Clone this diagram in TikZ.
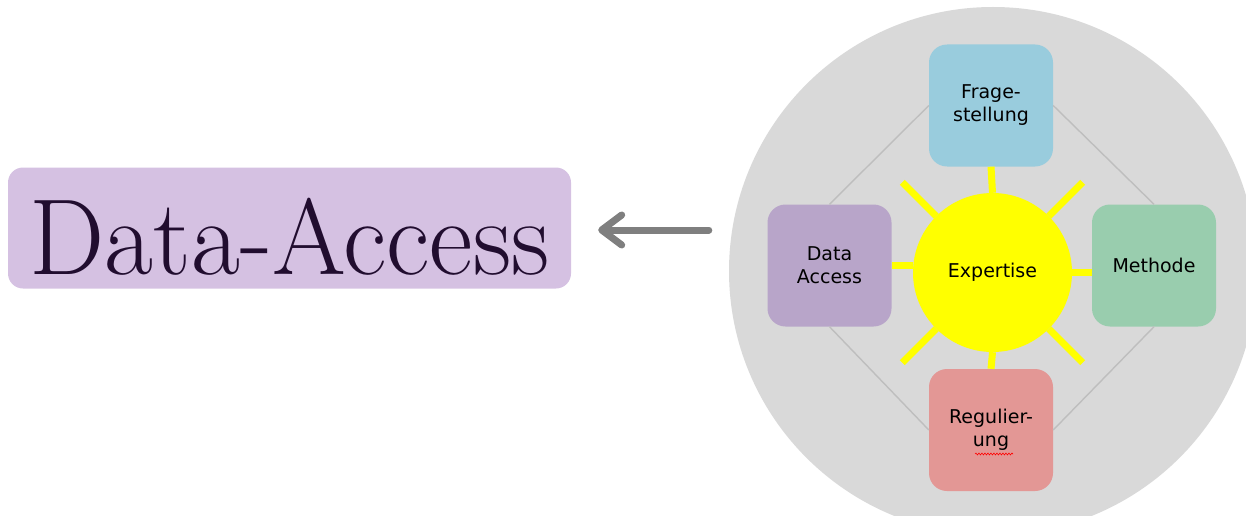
\documentclass[tikz,border=0pt]{standalone}
\usepackage{fontspec}
\newfontfamily\boxfont{DejaVu Sans}
\usepackage{tikz}
\usetikzlibrary{arrows.meta, calc, decorations.pathmorphing}
\definecolor{ringgray}{HTML}{D9D9D9}
\definecolor{linegray}{HTML}{BEBEBE}
\definecolor{sunyellow}{HTML}{FFFF00}
\definecolor{softblue}{HTML}{99CCDD}
\definecolor{softpurple}{HTML}{B8A5C9}
\definecolor{softgreen}{HTML}{99CDAE}
\definecolor{softrose}{HTML}{E39795}
\definecolor{lilac}{HTML}{D5C1E2}
\definecolor{plum}{HTML}{210D2F}
\definecolor{arrowgray}{HTML}{7F7F7F}

\begin{document}
\begin{tikzpicture}[x=1pt, y=-1pt,
  box/.style={rectangle, rounded corners=18pt, minimum width=124pt,
              minimum height=122pt, inner sep=0pt, align=center,
              font=\boxfont\fontsize{19}{23}\selectfont},
  ray/.style={draw=sunyellow, line width=7pt},
  link/.style={draw=linegray, line width=1.4pt},
  >={Straight Barb[length=20pt, width=30pt, round]}
]
\useasboundingbox (0,0) rectangle (1246,516);
\clip (0,0) rectangle (1246,516);

% ring with the five parts
\node[circle, fill=ringgray, minimum size=528pt, inner sep=0pt] (ring) at (993,271) {};
\node[circle, fill=sunyellow, minimum size=159pt, inner sep=0pt,
      font=\boxfont\fontsize{19}{23}\selectfont] (sun) at (992.5,272.5) {Expertise};
\node[box, fill=softblue]   (frage)   at (991,105.5)  {Frage-\\stellung};
\node[box, fill=softpurple] (daccess) at (829.5,265.5) {Data\\Access};
\node[box, fill=softgreen]  (methode) at (1154,265.5) {Methode};
\node[box, fill=softrose]   (regul)   at (991,430)    {Regulier-\\ung};

\draw[link] (frage.west) -- (daccess.north);
\draw[link] (frage.east) -- (methode.north);
\draw[link] (daccess.south) -- (regul.west);
\draw[link] (methode.south) -- (regul.east);

\draw[ray] (sun.north) -- (frage.south);
\draw[ray] (sun.south) -- (regul.north);
\draw[ray] (daccess.east) -- (daccess.east -| sun.west);
\draw[ray] (sun.east) -- (sun.east -| methode.west);
\foreach \a in {45,135,225,315}
  \draw[ray] (sun.\a) -- ($(sun.center)!1.6!(sun.\a)$);

\draw[red, line width=0.6pt, decorate, decoration={snake, amplitude=0.9pt, segment length=3pt}]
  ([xshift=-16pt, yshift=-24pt]regul.center) -- ([xshift=22pt, yshift=-24pt]regul.center);

% title on the left
\node[rectangle, rounded corners=15pt, fill=lilac, text=plum, minimum width=563pt,
      minimum height=121pt, inner sep=0pt, text height=92pt, text depth=0pt]
  (title) at (289.5,228) {\scalebox{0.985}[1]{\fontsize{108}{110}\selectfont Data-Access}\hspace{9pt}};

\draw[->, draw=arrowgray, line width=7pt, line cap=round, shorten <=20pt, shorten >=27pt]
  ([yshift=-2pt]title.east -| ring.west) -- ([yshift=-2pt]title.east);
\end{tikzpicture}
\end{document}
